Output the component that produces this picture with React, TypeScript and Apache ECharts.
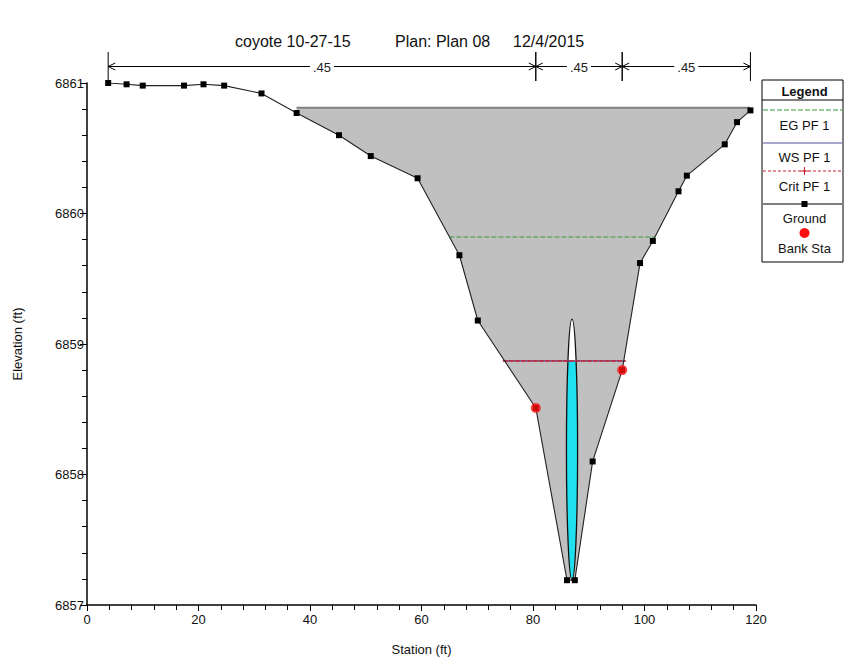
import React, { useEffect, useRef } from "react";
import * as echarts from "echarts";

// ---- Data ----
const groundStation = [3.8, 7.1, 10.0, 17.4, 20.9, 24.6, 31.3, 37.6, 45.2, 50.9, 59.3, 66.8, 70.1, 80.5, 86.1, 87.5, 90.7, 96.0, 99.2, 101.5, 106.1, 107.6, 114.4, 116.6, 119.0];
const groundElev = [6861.0, 6860.99, 6860.98, 6860.98, 6860.99, 6860.98, 6860.92, 6860.77, 6860.6, 6860.44, 6860.27, 6859.68, 6859.18, 6858.51, 6857.19, 6857.19, 6858.1, 6858.8, 6859.62, 6859.79, 6860.17, 6860.29, 6860.53, 6860.7, 6860.79];

const bankStation = [80.5, 96.0];
const bankElev = [6858.51, 6858.8];

const deckElev = 6860.81; // high chord / top of road
const deckStart = 37.6;
const deckEnd = 119.0;

const egElev = 6859.82;
const egExtent = [65.0, 101.9];
const wsElev = 6858.87;
const wsExtent = [74.6, 96.6];
const critElev = 6858.87;
const critExtent = [74.6, 96.6];

const culvertStation = 87.0;
const culvertInvert = 6857.19;
const culvertDiameter = 2.0;

const nStations = [3.8, 80.5, 96.0, 119.0];
const nValues = [".45", ".45", ".45"];

const titleParts = ["coyote 10-27-15", "Plan: Plan 08", "12/4/2015"];
const xTicks = { min: 0, max: 120, interval: 20 };
const yTicks = { min: 6857, max: 6861, interval: 1 };

const FONT = "'Liberation Sans', Arial, sans-serif";

export default function App() {
  const ref = useRef<HTMLDivElement>(null);

  useEffect(() => {
    document.body.style.margin = "0";
    if (!ref.current) return;
    const chart = echarts.init(ref.current, undefined, { renderer: "svg" });

    const fillIdx = groundStation.map((s, i) => i).filter((i) => groundStation[i] >= deckStart && groundStation[i] <= deckEnd);

    const renderFill = (params: any, api: any) => {
      if (params.dataIndex !== 0) return null;
      const pts: number[][] = [];
      pts.push(api.coord([deckStart, deckElev]));
      pts.push(api.coord([deckEnd, deckElev]));
      for (let k = fillIdx.length - 1; k >= 0; k--) {
        const i = fillIdx[k];
        pts.push(api.coord([groundStation[i], groundElev[i]]));
      }
      return {
        type: "polygon",
        shape: { points: pts },
        style: { fill: "#c0c0c0", stroke: "none" },
      };
    };

    const renderCulvert = (params: any, api: any) => {
      if (params.dataIndex !== 0) return null;
      const r = culvertDiameter / 2;
      const cyData = culvertInvert + r;
      const c = api.coord([culvertStation, cyData]);
      const sz = api.size([r, r]);
      const left: number[][] = [];
      const right: number[][] = [];
      const steps = 60;
      for (let k = 0; k <= steps; k++) {
        const y = culvertInvert + ((wsElev - culvertInvert) * k) / steps;
        const hw = Math.sqrt(Math.max(0, r * r - (y - cyData) * (y - cyData)));
        left.push(api.coord([culvertStation - hw, y]));
        right.unshift(api.coord([culvertStation + hw, y]));
      }
      return {
        type: "group",
        children: [
          { type: "ellipse", shape: { cx: c[0], cy: c[1], rx: sz[0], ry: sz[1] }, style: { fill: "#ffffff", stroke: "none" } },
          { type: "polygon", shape: { points: left.concat(right) }, style: { fill: "#1ee0ee", stroke: "none" } },
          { type: "ellipse", shape: { cx: c[0], cy: c[1], rx: sz[0], ry: sz[1] }, style: { fill: "none", stroke: "#111", lineWidth: 1.3 } },
        ],
      };
    };

    const renderN = (params: any, api: any) => {
      const i = params.dataIndex;
      if (i >= nValues.length) return null;
      const x1 = api.coord([nStations[i], yTicks.max])[0];
      const x2 = api.coord([nStations[i + 1], yTicks.max])[0];
      const yTop = api.coord([xTicks.min, yTicks.max])[1];
      const ly = yTop - 16.5;
      const st = { stroke: "#000", lineWidth: 1, fill: "none" };
      const ah = 7;
      const children: any[] = [
        { type: "line", shape: { x1, y1: yTop - 31, x2: x1, y2: yTop - 2 }, style: st },
        { type: "line", shape: { x1: x2, y1: yTop - 31, x2, y2: yTop - 2 }, style: st },
        { type: "line", shape: { x1, y1: ly, x2, y2: ly }, style: st },
        { type: "polyline", shape: { points: [[x1 + ah, ly - 3.5], [x1, ly], [x1 + ah, ly + 3.5]] }, style: st },
        { type: "polyline", shape: { points: [[x2 - ah, ly - 3.5], [x2, ly], [x2 - ah, ly + 3.5]] }, style: st },
        {
          type: "text",
          style: {
            text: nValues[i],
            x: (x1 + x2) / 2,
            y: ly + 1,
            align: "center",
            verticalAlign: "middle",
            fontSize: 13,
            fontFamily: FONT,
            fill: "#222",
            backgroundColor: "#fff",
            padding: [0, 3],
          },
        },
      ];
      return { type: "group", children };
    };

    const legendX = 762;
    const legendW = 81;
    const lc = legendX + legendW / 2 + 2;
    const txt = (t: string, y: number, bold = false) => ({
      type: "text",
      style: { text: t, x: lc, y, align: "center", verticalAlign: "middle", fontSize: 13, fontWeight: bold ? "bold" : "normal", fontFamily: FONT, fill: "#111" },
    });

    const option: any = {
      animation: false,
      backgroundColor: "#ffffff",
      grid: { left: 87, right: 89, top: 83, bottom: 58 },
      xAxis: {
        type: "value",
        min: xTicks.min,
        max: xTicks.max,
        interval: xTicks.interval,
        name: "Station (ft)",
        nameLocation: "middle",
        nameGap: 38,
        nameTextStyle: { fontSize: 13, fontFamily: FONT, color: "#111" },
        axisLine: { show: true, onZero: false, lineStyle: { color: "#000", width: 1.5 } },
        axisTick: { show: true, length: 6, lineStyle: { color: "#000" } },
        minorTick: { show: true, splitNumber: 5, length: 5, lineStyle: { color: "#000" } },
        splitLine: { show: false },
        axisLabel: { fontSize: 13, fontFamily: FONT, color: "#111", margin: 8, formatter: (v: number) => String(v) },
      },
      yAxis: {
        type: "value",
        min: yTicks.min,
        max: yTicks.max,
        interval: yTicks.interval,
        name: "Elevation (ft)",
        nameLocation: "middle",
        nameGap: 63,
        nameTextStyle: { fontSize: 13, fontFamily: FONT, color: "#111" },
        axisLine: { show: true, onZero: false, lineStyle: { color: "#000", width: 1.5 } },
        axisTick: { show: true, length: 7, lineStyle: { color: "#000" } },
        minorTick: { show: true, splitNumber: 5, length: 5, lineStyle: { color: "#000" } },
        splitLine: { show: false },
        axisLabel: { fontSize: 13, fontFamily: FONT, color: "#111", margin: 3, formatter: (v: number) => String(v) },
      },
      series: [
        { type: "custom", name: "Fill", renderItem: renderFill, data: [[deckStart, deckElev]], z: 1, silent: true },
        {
          type: "line",
          name: "Deck",
          data: [[deckStart, deckElev], [deckEnd, deckElev]],
          symbol: "none",
          lineStyle: { color: "#808080", width: 2 },
          z: 2,
        },
        { type: "custom", name: "Culvert", renderItem: renderCulvert, data: [[culvertStation, culvertInvert]], z: 3, silent: true },
        {
          type: "line",
          name: "EG PF 1",
          data: egExtent.map((s) => [s, egElev]),
          symbol: "none",
          lineStyle: { color: "#3a9a3a", width: 1.2, type: [5, 2] },
          z: 4,
        },
        {
          type: "line",
          name: "WS PF 1",
          data: wsExtent.map((s) => [s, wsElev]),
          symbol: "none",
          lineStyle: { color: "#5050a0", width: 1.2 },
          z: 4,
        },
        {
          type: "line",
          name: "Crit PF 1",
          data: critExtent.map((s) => [s, critElev]),
          symbol: "none",
          lineStyle: { color: "#c82030", width: 1.4, type: [5, 1] },
          z: 5,
        },
        {
          type: "line",
          name: "Ground",
          data: groundStation.map((s, i) => [s, groundElev[i]]),
          symbol: "rect",
          symbolSize: 6,
          itemStyle: { color: "#000" },
          lineStyle: { color: "#222", width: 1.1 },
          z: 6,
        },
        {
          type: "scatter",
          name: "Bank Sta",
          data: bankStation.map((s, i) => [s, bankElev[i]]),
          symbol: "circle",
          symbolSize: 10,
          itemStyle: { color: "#ff1010" },
          z: 7,
        },
        { type: "custom", name: "n values", renderItem: renderN, data: nValues.map((v, i) => [nStations[i], yTicks.max]), clip: false, z: 8, silent: true },
      ],
      graphic: [
        { type: "text", left: 235, top: 33, style: { text: titleParts[0], fontSize: 16, fontFamily: FONT, fill: "#111" } },
        { type: "text", left: 395, top: 33, style: { text: titleParts[1], fontSize: 16, fontFamily: FONT, fill: "#111" } },
        { type: "text", left: 513, top: 33, style: { text: titleParts[2], fontSize: 16, fontFamily: FONT, fill: "#111" } },
        { type: "rect", z: 10, shape: { x: legendX, y: 80, width: legendW, height: 182 }, style: { fill: "#fff", stroke: "#000", lineWidth: 1 } },
        { ...txt("Legend", 91, true), z: 11 },
        { type: "line", z: 11, shape: { x1: legendX, y1: 100, x2: legendX + legendW, y2: 100 }, style: { stroke: "#000", lineWidth: 1 } },
        { type: "line", z: 11, shape: { x1: legendX + 1, y1: 110, x2: legendX + legendW - 1, y2: 110 }, style: { stroke: "#3a9a3a", lineWidth: 1.2, lineDash: [5, 2] } },
        { ...txt("EG PF 1", 125), z: 11 },
        { type: "line", z: 11, shape: { x1: legendX + 1, y1: 143, x2: legendX + legendW - 1, y2: 143 }, style: { stroke: "#5050a0", lineWidth: 1.2 } },
        { ...txt("WS PF 1", 157), z: 11 },
        { type: "line", z: 11, shape: { x1: legendX + 1, y1: 171, x2: legendX + legendW - 1, y2: 171 }, style: { stroke: "#c82030", lineWidth: 1, lineDash: [3, 2] } },
        { type: "line", z: 11, shape: { x1: lc - 4, y1: 171, x2: lc + 4, y2: 171 }, style: { stroke: "#c82030", lineWidth: 1 } },
        { type: "line", z: 11, shape: { x1: lc, y1: 167, x2: lc, y2: 175 }, style: { stroke: "#c82030", lineWidth: 1 } },
        { ...txt("Crit PF 1", 186), z: 11 },
        { type: "line", z: 11, shape: { x1: legendX + 1, y1: 204, x2: legendX + legendW - 1, y2: 204 }, style: { stroke: "#000", lineWidth: 1.2 } },
        { type: "rect", z: 11, shape: { x: lc - 3, y: 201, width: 6, height: 6 }, style: { fill: "#000" } },
        { ...txt("Ground", 218), z: 11 },
        { type: "circle", z: 11, shape: { cx: lc, cy: 233, r: 5 }, style: { fill: "#ff1010" } },
        { ...txt("Bank Sta", 248), z: 11 },
      ],
    };

    chart.setOption(option);
    return () => chart.dispose();
  }, []);

  return <div ref={ref} style={{ width: 845, height: 663 }} />;
}
